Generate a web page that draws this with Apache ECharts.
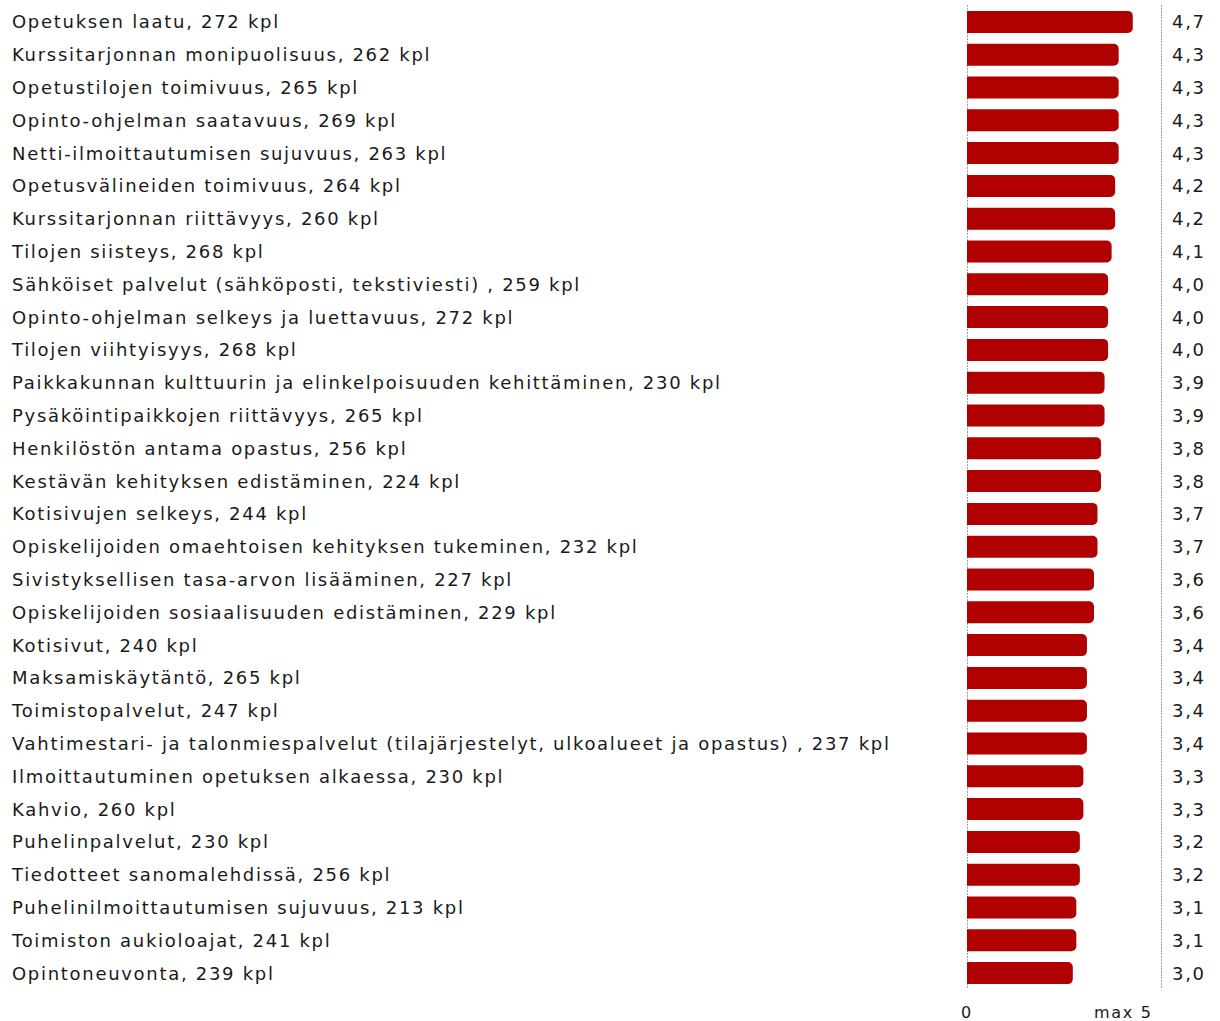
<!DOCTYPE html>
<html>
<head>
    <meta charset="utf-8" />
    <title>Palautekysely - keskiarvot</title>
    <script type="text/javascript" src="https://cdn.jsdelivr.net/npm/echarts@6/dist/echarts.min.js"></script>
    <style>
        html, body { margin: 0; padding: 0; background: #fff; }
        /* alkuperäisessä kuvassa kirjaimet ovat harvassa */
        #main text { letter-spacing: 1.7px; }
    </style>
</head>
<body>
<div id="main" style="width: 1220px;height:1021px;"></div>
<script type="text/javascript">
    // arviointikohteet ja vastausmäärät (ylhäältä alas)
    var categories = [
        'Opetuksen laatu, 272 kpl',
        'Kurssitarjonnan monipuolisuus, 262 kpl',
        'Opetustilojen toimivuus, 265 kpl',
        'Opinto-ohjelman saatavuus, 269 kpl',
        'Netti-ilmoittautumisen sujuvuus, 263 kpl',
        'Opetusvälineiden toimivuus, 264 kpl',
        'Kurssitarjonnan riittävyys, 260 kpl',
        'Tilojen siisteys, 268 kpl',
        'Sähköiset palvelut (sähköposti, tekstiviesti) , 259 kpl',
        'Opinto-ohjelman selkeys ja luettavuus, 272 kpl',
        'Tilojen viihtyisyys, 268 kpl',
        'Paikkakunnan kulttuurin ja elinkelpoisuuden kehittäminen, 230 kpl',
        'Pysäköintipaikkojen riittävyys, 265 kpl',
        'Henkilöstön antama opastus, 256 kpl',
        'Kestävän kehityksen edistäminen, 224 kpl',
        'Kotisivujen selkeys, 244 kpl',
        'Opiskelijoiden omaehtoisen kehityksen tukeminen, 232 kpl',
        'Sivistyksellisen tasa-arvon lisääminen, 227 kpl',
        'Opiskelijoiden sosiaalisuuden edistäminen, 229 kpl',
        'Kotisivut, 240 kpl',
        'Maksamiskäytäntö, 265 kpl',
        'Toimistopalvelut, 247 kpl',
        'Vahtimestari- ja talonmiespalvelut (tilajärjestelyt, ulkoalueet ja opastus) , 237 kpl',
        'Ilmoittautuminen opetuksen alkaessa, 230 kpl',
        'Kahvio, 260 kpl',
        'Puhelinpalvelut, 230 kpl',
        'Tiedotteet sanomalehdissä, 256 kpl',
        'Puhelinilmoittautumisen sujuvuus, 213 kpl',
        'Toimiston aukioloajat, 241 kpl',
        'Opintoneuvonta, 239 kpl'
    ];
    // keskiarvot asteikolla 0-5
    var scores = [4.7, 4.3, 4.3, 4.3, 4.3, 4.2, 4.2, 4.1, 4.0, 4.0,
                  4.0, 3.9, 3.9, 3.8, 3.8, 3.7, 3.7, 3.6, 3.6, 3.4,
                  3.4, 3.4, 3.4, 3.3, 3.3, 3.2, 3.2, 3.1, 3.1, 3.0];
    // x-akselin merkinnät
    var tickLabels = { 0: '0', 5: 'max 5' };

    var scoreLabels = scores.map(function (v) {
        return v.toFixed(1).replace('.', ',');
    });

    var font = 'DejaVu Sans';
    var gridLeft = 967, gridRight = 1161;

    var myChart = echarts.init(document.getElementById('main'), null, { renderer: 'svg' });
    var option = {
        animation: false,
        textStyle: { fontFamily: font },
        grid: {
            left: gridLeft,
            top: 5.5,
            width: gridRight - gridLeft,
            height: 984,
            containLabel: false
        },
        xAxis: {
            type: 'value',
            min: 0,
            max: 5.5,
            interval: 5,
            axisLine: { show: false },
            axisTick: { show: false },
            splitLine: { show: false },
            axisLabel: {
                margin: 15,
                color: '#1a1a1a',
                fontSize: 16,
                fontFamily: font,
                formatter: function (v) {
                    return tickLabels[v] !== undefined ? (v === 5 ? '{m|' + tickLabels[v] + '}' : tickLabels[v]) : '';
                },
                rich: {
                    m: { fontSize: 16, fontFamily: font, color: '#1a1a1a', padding: [0, 40, 0, 0] }
                }
            }
        },
        yAxis: [
            {
                type: 'category',
                inverse: true,
                data: categories,
                axisTick: { show: false },
                axisLine: {
                    show: true,
                    lineStyle: { color: '#999', type: [1, 2], width: 1 }
                },
                axisLabel: {
                    align: 'left',
                    margin: gridLeft - 12,
                    color: '#1a1a1a',
                    fontSize: 18,
                    fontFamily: font
                }
            },
            {
                type: 'category',
                inverse: true,
                position: 'right',
                data: scoreLabels,
                axisTick: { show: false },
                axisLine: {
                    show: true,
                    lineStyle: { color: '#999', type: [1, 2], width: 1 }
                },
                axisLabel: {
                    align: 'left',
                    margin: 11,
                    color: '#1a1a1a',
                    fontSize: 18,
                    fontFamily: font
                }
            }
        ],
        series: [
            {
                name: 'Keskiarvo',
                type: 'bar',
                yAxisIndex: 0,
                barWidth: 22,
                data: scores,
                itemStyle: {
                    color: '#b00000',
                    borderRadius: [0, 5, 5, 0]
                }
            }
        ]
    };
    myChart.setOption(option);
</script>
</body>
</html>
